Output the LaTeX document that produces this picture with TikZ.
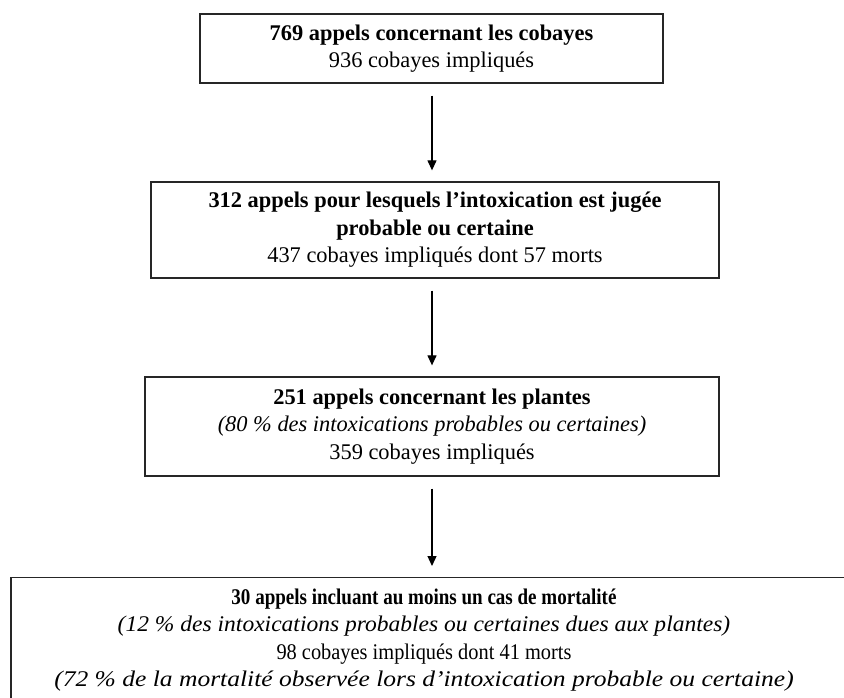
\documentclass[tikz,border=0pt]{standalone}
\usepackage{fontspec}
\usepackage{graphicx}
\setmainfont{Liberation Serif}
\usetikzlibrary{arrows.meta}
\tikzset{
  box/.style={draw=black!85, line width=1.3pt, rectangle, align=center, inner sep=0pt,
    font=\fontsize{22.4}{27.5}\selectfont},
  txt/.style={align=center, inner sep=0pt, font=\fontsize{22.4}{27.5}\selectfont},
  flow/.style={draw=black, line width=1.2pt, -{Triangle[length=10pt,width=9pt]},
    shorten <=12pt, shorten >=11pt}
}
\begin{document}
\begin{tikzpicture}[x=1pt,y=-1pt]
\useasboundingbox (0,0) rectangle (844,697);
\clip (0,0) rectangle (844,697);
\node[box, minimum width=463pt, minimum height=69pt] (b1) at (431.5,48.5)
  {\textbf{769 appels concernant les cobayes}\\936 cobayes impliqués};
\node[box, minimum width=568pt, minimum height=96pt] (b2) at (435,230)
  {\textbf{312 appels pour lesquels l’intoxication est jugée}\\\textbf{probable ou certaine}\\437 cobayes impliqués dont 57 morts};
\node[box, minimum width=574pt, minimum height=99pt] (b3) at (432,426.5)
  {\textbf{251 appels concernant les plantes}\\\textit{(80 \% des intoxications probables ou certaines)}\\359 cobayes impliqués};
\node[box, minimum width=842pt, minimum height=130pt, anchor=north] (b4) at (432,577) {};
\node[txt] (b4t) at (424,640)
  {\scalebox{0.85}[1]{\textbf{30 appels incluant au moins un cas de mortalité}}\\
   \scalebox{1.05}[1]{\textit{(12 \% des intoxications probables ou certaines dues aux plantes)}}\\
   \scalebox{0.91}[1]{98 cobayes impliqués dont 41 morts}\\
   \scalebox{1.14}[1]{\textit{(72 \% de la mortalité observée lors d’intoxication probable ou certaine)}}};
\draw[flow] (b1.south -| 432,0) -- (b2.north -| 432,0);
\draw[flow] (b2.south -| 432,0) -- (b3.north -| 432,0);
\draw[flow] (b3.south -| 432,0) -- (b4.north -| 432,0);
\end{tikzpicture}
\end{document}
